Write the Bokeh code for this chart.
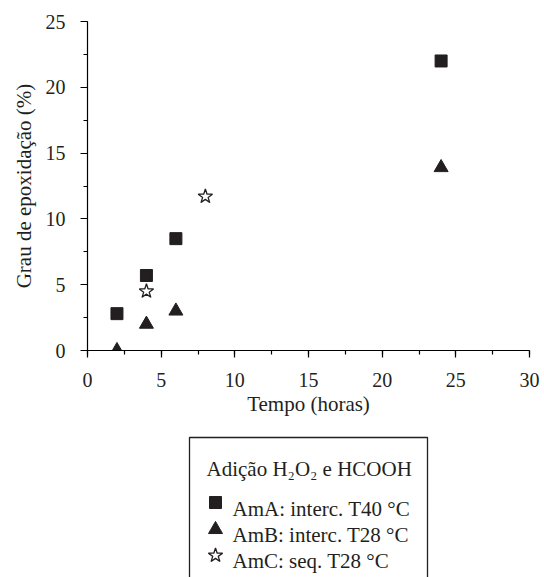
from bokeh.plotting import figure
from bokeh.models import Range1d, SingleIntervalTicker
from bokeh.layouts import column
from bokeh.embed import file_html
from bokeh.resources import INLINE
from bokeh.core.properties import value

# ---- data ----
tempo_A = [2, 4, 6, 24]
grau_A = [2.8, 5.7, 8.5, 22.0]
tempo_B = [2, 4, 6, 24]
grau_B = [0.0, 2.0, 3.0, 13.9]
tempo_C = [4, 8]
grau_C = [4.5, 11.7]

legend_title = "Adição H₂O₂ e HCOOH"
legend_labels = ["AmA: interc. T40 °C", "AmB: interc. T28 °C", "AmC: seq. T28 °C"]
x_label = "Tempo (horas)"
y_label = "Grau de epoxidação (%)"

FONT = "Liberation Serif"
INK = "#231f20"

W = 544
H_MAIN = 420
H_LEG = 157
B_LEFT, B_RIGHT = 87, 15

p = figure(width=W, height=H_MAIN, output_backend="svg", toolbar_location=None,
           x_range=Range1d(0, 30), y_range=Range1d(0, 25),
           min_border_left=B_LEFT, min_border_right=B_RIGHT, min_border_top=21,
           min_border_bottom=70)
p.outline_line_color = None
p.xgrid.visible = False
p.ygrid.visible = False

for ax, standoff in ((p.xaxis[0], 15), (p.yaxis[0], 15)):
    ax.ticker = SingleIntervalTicker(interval=5, num_minor_ticks=2)
    ax.axis_line_color = "black"
    ax.axis_line_width = 1.2
    ax.major_tick_line_color = "black"
    ax.minor_tick_line_color = "black"
    ax.major_tick_line_width = 1.2
    ax.minor_tick_line_width = 1.2
    ax.major_tick_in = 0
    ax.major_tick_out = 7
    ax.minor_tick_in = 0
    ax.minor_tick_out = 4
    ax.major_label_text_font = FONT
    ax.major_label_text_font_size = "20px"
    ax.major_label_text_color = INK
    ax.major_label_standoff = standoff
    ax.axis_label_text_font = FONT
    ax.axis_label_text_font_size = "21px"
    ax.axis_label_text_font_style = "normal"
    ax.axis_label_text_color = INK

p.xaxis.axis_label = x_label
p.yaxis.axis_label = y_label
p.xaxis.axis_label_standoff = 2
p.yaxis.axis_label_standoff = 7

p.scatter(tempo_A, grau_A, marker="square", size=12, fill_color=INK, line_color=INK)
p.scatter(tempo_B, grau_B, marker="triangle", size=14, fill_color=INK, line_color=INK)
p.scatter(tempo_C, grau_C, marker="star", size=15, fill_color="white", line_color=INK, line_width=1.3)

# ---- legend panel: frame aligned with the main plot's frame, so x in page pixels ----
lg = figure(width=W, height=H_LEG, output_backend="svg", toolbar_location=None,
            x_range=Range1d(B_LEFT, W - B_RIGHT), y_range=Range1d(H_LEG, 0),
            min_border_left=B_LEFT, min_border_right=B_RIGHT,
            min_border_top=0, min_border_bottom=0)
lg.outline_line_color = None
lg.axis.visible = False
lg.grid.visible = False

box_left, box_right, box_top = 189, 427, 17
lg.quad(left=[box_left], right=[box_right], top=[box_top], bottom=[H_LEG + 20],
        fill_color=None, line_color=INK, line_width=1.3)

lg.text(x=[206], y=[48], text=[legend_title], text_font=value(FONT),
        text_font_size="21px", text_color=INK, text_baseline="alphabetic")

row_base = [88, 114, 140]
lg.text(x=[232] * 3, y=row_base, text=legend_labels, text_font=value(FONT),
        text_font_size="21px", text_color=INK, text_baseline="alphabetic")

mx = 215
lg.scatter([mx], [82], marker="square", size=12, fill_color=INK, line_color=INK)
lg.scatter([mx], [109], marker="triangle", size=14, fill_color=INK, line_color=INK)
lg.scatter([mx], [135], marker="star", size=15, fill_color="white", line_color=INK, line_width=1.3)

layout = column(p, lg, spacing=0)
open("out.html", "w").write(file_html(layout, INLINE))
